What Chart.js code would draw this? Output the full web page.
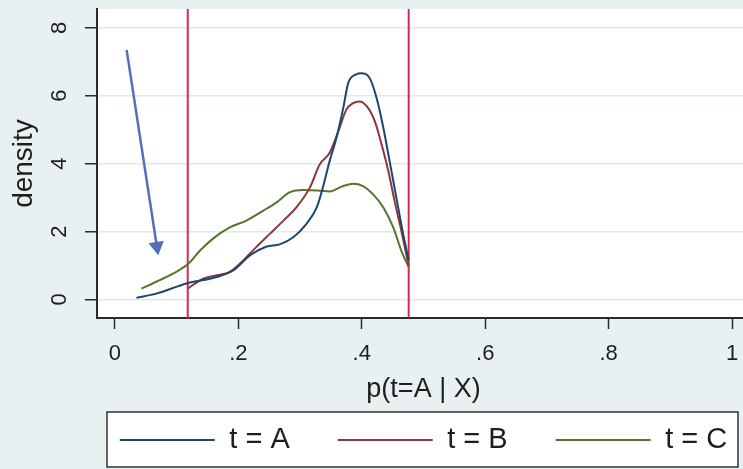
<!DOCTYPE html>
<html>
<head>
<meta charset="utf-8">
<script src="https://cdn.jsdelivr.net/npm/chart.js@4/dist/chart.umd.min.js"></script>
<style>
  html, body { margin: 0; padding: 0; overflow: hidden; background: #e8f0f2; width: 743px; height: 469px; }
  #wrap { width: 847px; height: 469px; }
</style>
</head>
<body>
<div id="wrap"><canvas id="c" width="847" height="469"></canvas></div>
<script>
// ---- data ----
const xTicks = [0, 0.2, 0.4, 0.6, 0.8, 1];
const xTickLabels = ['0', '.2', '.4', '.6', '.8', '1'];
const yTicks = [0, 2, 4, 6, 8];
const yTickLabels = ['0', '2', '4', '6', '8'];
const xRange = [-0.029, 1.029];
const yRange = [-0.547, 8.553];
const seriesNames = ['t = A', 't = B', 't = C'];
const xAxisTitle = 'p(t=A | X)';
const yAxisTitle = 'density';

const xA = [0.035, 0.067, 0.116, 0.165, 0.192, 0.219, 0.246, 0.267, 0.289, 0.310, 0.327, 0.337, 0.348, 0.359, 0.370, 0.378, 0.391, 0.399, 0.413, 0.424, 0.435, 0.445, 0.456, 0.467, 0.476];
const yA = [0.05, 0.17, 0.47, 0.66, 0.86, 1.30, 1.56, 1.62, 1.83, 2.22, 2.71, 3.30, 4.08, 4.76, 5.64, 6.37, 6.63, 6.66, 6.51, 5.93, 5.05, 4.08, 3.00, 1.93, 1.15];

const xB = [0.118, 0.143, 0.165, 0.186, 0.208, 0.229, 0.251, 0.273, 0.294, 0.316, 0.332, 0.348, 0.362, 0.375, 0.386, 0.396, 0.408, 0.421, 0.432, 0.443, 0.453, 0.464, 0.476];
const yB = [0.32, 0.61, 0.71, 0.81, 1.15, 1.54, 1.93, 2.32, 2.71, 3.30, 3.98, 4.32, 4.95, 5.59, 5.78, 5.83, 5.69, 5.25, 4.57, 3.78, 2.91, 2.03, 1.00];

const xC = [0.043, 0.067, 0.094, 0.119, 0.138, 0.159, 0.186, 0.213, 0.240, 0.262, 0.283, 0.305, 0.332, 0.348, 0.370, 0.386, 0.402, 0.418, 0.435, 0.451, 0.464, 0.476];
const yC = [0.32, 0.52, 0.76, 1.05, 1.44, 1.79, 2.12, 2.32, 2.61, 2.86, 3.15, 3.22, 3.20, 3.18, 3.34, 3.41, 3.34, 3.10, 2.71, 2.12, 1.44, 0.95];

const vLineX = [0.118, 0.476];
const arrowX = [0.019, 0.068];
const arrowY = [7.35, 1.56];

// ---- styles ----
const colors = ['#1a476f', '#90353b', '#55752f'];
const vLineColor = '#d42a50';
const arrowColor = '#5670b8';
const textColor = '#1e1e1e';
const axisColor = '#2a2a2a';
const FONT = '"Liberation Sans", Arial, sans-serif';

const pts = (xs, ys) => xs.map((x, i) => ({ x: x, y: ys[i] }));
const series = [[xA, yA], [xB, yB], [xC, yC]];

const datasets = series.map((s, i) => ({
  label: seriesNames[i],
  data: pts(s[0], s[1]),
  borderColor: colors[i],
  backgroundColor: colors[i],
  borderWidth: 2,
  pointRadius: 0,
  cubicInterpolationMode: 'monotone',
  fill: false
}));
vLineX.forEach((vx) => {
  datasets.push({
    label: '',
    data: pts([vx, vx], yRange),
    borderColor: vLineColor,
    borderWidth: 2,
    pointRadius: 0,
    fill: false
  });
});
datasets.push({
  label: '',
  data: pts(arrowX, arrowY),
  borderColor: arrowColor,
  backgroundColor: arrowColor,
  borderWidth: 2.5,
  pointRadius: [0, 9],
  pointStyle: 'triangle',
  rotation: [0, 171],
  pointBorderWidth: 0,
  fill: false
});

const bgPlugin = {
  id: 'bg',
  beforeDraw(chart) {
    const ctx = chart.ctx, a = chart.chartArea;
    ctx.save();
    ctx.fillStyle = '#e8f0f2';
    ctx.fillRect(0, 0, chart.width, chart.height);
    ctx.fillStyle = '#ffffff';
    ctx.fillRect(a.left, a.top, a.right - a.left, a.bottom - a.top);
    const lg = chart.legend;
    const cx = (lg.left + lg.right) / 2;
    const cy = lg.top + lg.options.labels.padding + lg.options.labels.font.size / 2;
    ctx.fillRect(cx - 316.5, cy - 28, 631, 55);
    ctx.restore();
  },
  afterDraw(chart) {
    const ctx = chart.ctx;
    const lg = chart.legend;
    const cx = (lg.left + lg.right) / 2;
    const cy = lg.top + lg.options.labels.padding + lg.options.labels.font.size / 2;
    ctx.save();
    ctx.strokeStyle = '#333333';
    ctx.lineWidth = 1.5;
    ctx.strokeRect(cx - 316.5, cy - 28, 631, 55);
    ctx.restore();
  }
};

const noPad = (s) => { s.paddingTop = 0; s.paddingBottom = 0; s.paddingLeft = 0; s.paddingRight = 0; };

new Chart(document.getElementById('c'), {
  type: 'line',
  data: { datasets: datasets },
  plugins: [bgPlugin],
  options: {
    responsive: false,
    animation: false,
    events: [],
    layout: { padding: { left: 0, right: 0, top: 7, bottom: 4.5 } },
    plugins: {
      tooltip: { enabled: false },
      legend: {
        display: true,
        position: 'bottom',
        fullSize: true,
        labels: {
          filter: (item) => item.datasetIndex < 3,
          usePointStyle: true,
          pointStyle: 'line',
          pointStyleWidth: 95,
          padding: 48,
          color: textColor,
          font: { family: FONT, size: 29 }
        }
      }
    },
    scales: {
      x: {
        type: 'linear',
        position: 'bottom',
        min: xRange[0],
        max: xRange[1],
        afterBuildTicks: (s) => { s.ticks = xTicks.map(v => ({ value: v })); },
        afterFit: (s) => { s.height = 59.5; noPad(s); },
        ticks: {
          autoSkip: false,
          maxRotation: 0,
          minRotation: 0,
          padding: 12,
          color: textColor,
          font: { family: FONT, size: 22 },
          callback: (v, i) => xTickLabels[i]
        },
        grid: {
          display: true,
          drawOnChartArea: false,
          drawTicks: true,
          tickLength: 11,
          tickColor: axisColor,
          tickWidth: 1.5
        },
        border: { display: true, color: axisColor, width: 2 },
        title: {
          display: true,
          text: xAxisTitle,
          color: textColor,
          font: { family: FONT, size: 27 },
          padding: { top: 0, bottom: -28.7 }
        }
      },
      y: {
        type: 'linear',
        position: 'left',
        min: yRange[0],
        max: yRange[1],
        afterBuildTicks: (s) => { s.ticks = yTicks.map(v => ({ value: v })); },
        afterFit: (s) => { s.width = 97; noPad(s); },
        ticks: {
          autoSkip: false,
          minRotation: 90,
          maxRotation: 90,
          crossAlign: 'center',
          padding: 19,
          color: textColor,
          font: { family: FONT, size: 22 },
          callback: (v, i) => yTickLabels[i]
        },
        grid: {
          display: true,
          drawOnChartArea: true,
          color: '#e0eaee',
          lineWidth: 1.5,
          drawTicks: true,
          tickLength: 12,
          tickColor: axisColor,
          tickWidth: 1.5
        },
        border: { display: true, color: axisColor, width: 2 },
        title: {
          display: true,
          text: yAxisTitle,
          color: textColor,
          font: { family: FONT, size: 28 },
          padding: { top: 7, bottom: 0 }
        }
      },
      y2: {
        type: 'linear',
        position: 'right',
        min: 0,
        max: 1,
        afterFit: (s) => { s.width = 97; noPad(s); },
        ticks: { display: false },
        grid: { display: false },
        border: { display: false },
        title: { display: false }
      }
    }
  }
});
</script>
</body>
</html>
